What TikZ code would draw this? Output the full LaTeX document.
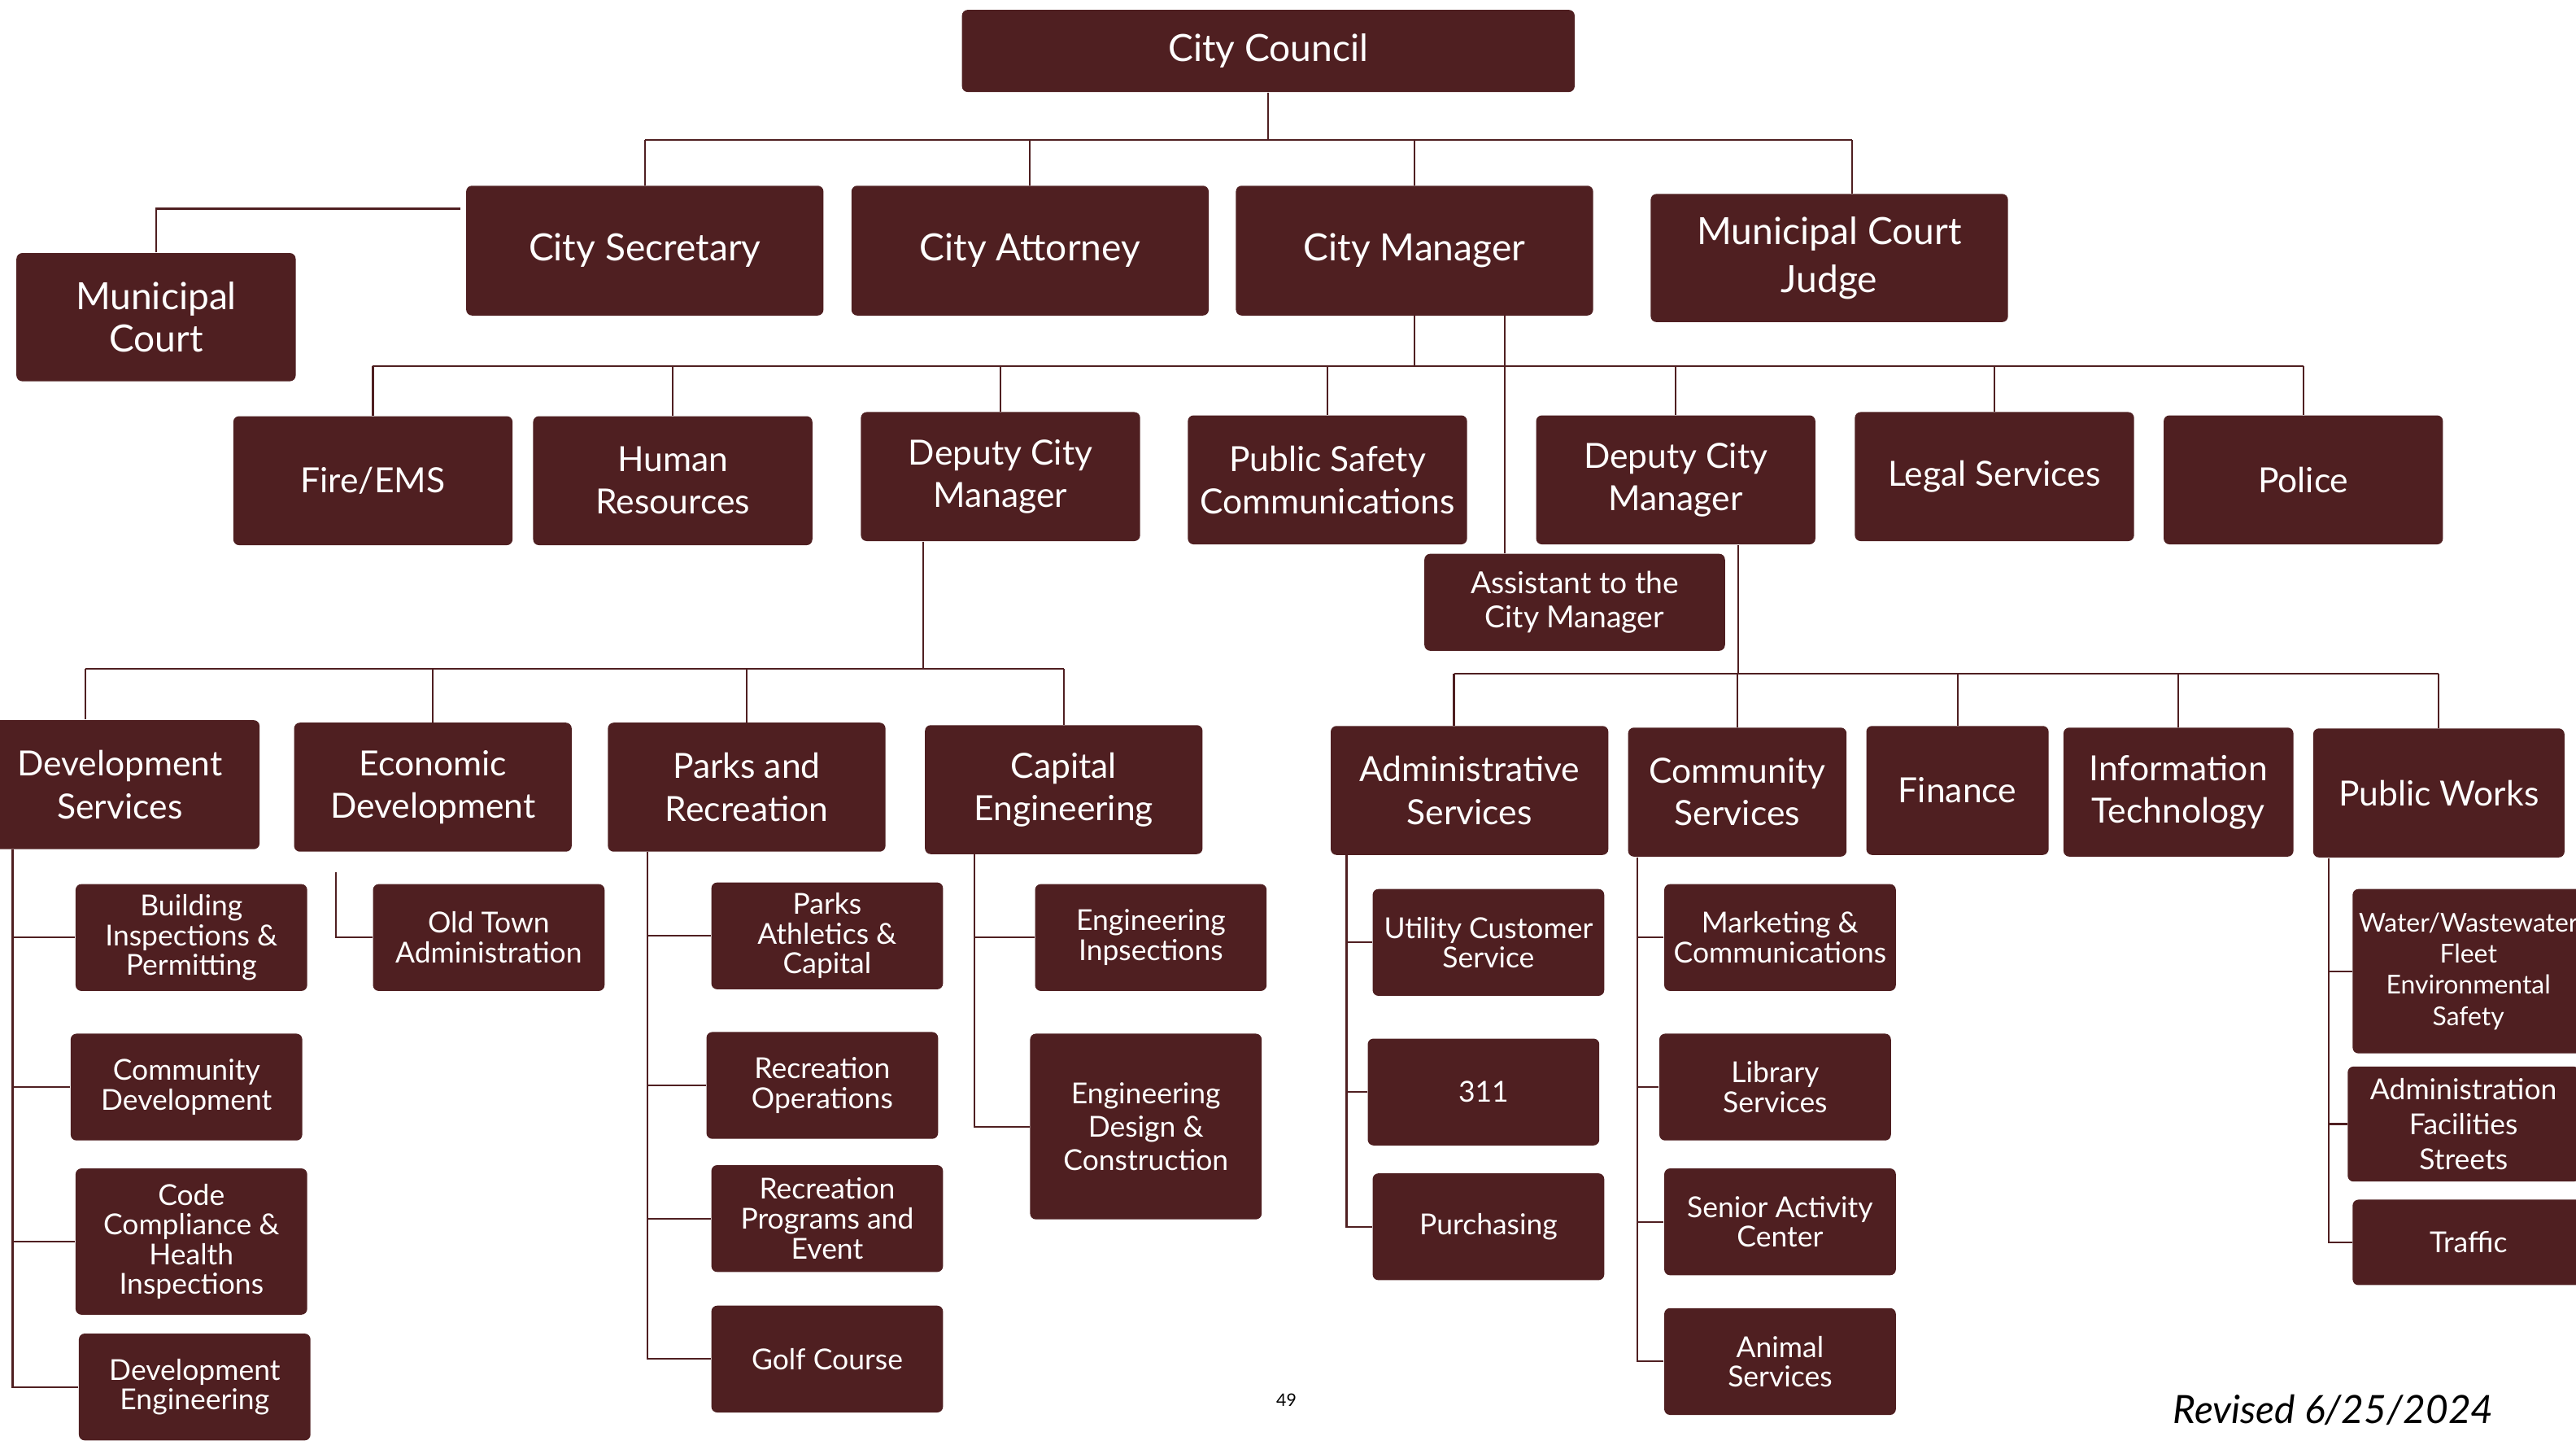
\documentclass[tikz,border=0pt]{standalone}
\usepackage{fontspec}
\setmainfont{Lato}
\usepackage{tikz}
\definecolor{maroon}{HTML}{4F1F21}

\begin{document}
\begin{tikzpicture}[
    x=0.02cm, y=-0.02cm,
    unitbox/.style={rectangle, rounded corners=2pt, fill=maroon, text=white, align=center, inner sep=2pt, minimum width=3.4cm, minimum height=1.57cm, font=\fontsize{12}{14.7}\selectfont},
    headbox/.style={unitbox, minimum width=4.35cm, minimum height=1.58cm, font=\fontsize{13}{16.5}\selectfont},
    subbox/.style={unitbox, minimum width=2.82cm, minimum height=1.3cm, inner sep=1pt, font=\fontsize{10}{10.3}\selectfont},
    link/.style={draw=maroon, line width=0.6pt},
]
\useasboundingbox (0,0) rectangle (1568,879);
\clip (0,0) rectangle (1568,879);

% Row 1 - Council and its direct reports
\node[headbox, minimum width=7.46cm, minimum height=1cm] (cc) at (772,31) {City Council};
\node[headbox] (sec) at (392.5,152.5) {City Secretary};
\node[headbox] (att) at (627,152.5) {City Attorney};
\node[headbox] (cm) at (861,152.5) {City Manager};
\node[headbox, minimum height=1.56cm] (judge) at (1113.5,157) {Municipal Court\\Judge};
\node[headbox, minimum width=3.4cm, minimum height=1.56cm, font=\fontsize{13}{14.7}\selectfont] (mcourt) at (95,193) {Municipal\\Court};

% Row 2 - City Manager reports
\node[unitbox] (fire) at (227,292.5) {Fire/EMS};
\node[unitbox] (hr) at (409.5,292.5) {Human\\Resources};
\node[unitbox] (dcmA) at (609,290) {Deputy City\\Manager};
\node[unitbox] (psc) at (808,292) {Public Safety\\Communications};
\node[unitbox] (dcmB) at (1020,292) {Deputy City\\Manager};
\node[unitbox] (legal) at (1214,290) {Legal Services};
\node[unitbox] (police) at (1402,292) {Police};
\node[unitbox, minimum width=3.66cm, minimum height=1.18cm, font=\fontsize{10.5}{12}\selectfont] (asst) at (958.5,366.5) {Assistant to the\\City Manager};

% Row 3 - Departments
\node[unitbox] (dev) at (73,477.5) {Development\\Services};
\node[unitbox, minimum width=3.38cm] (econ) at (263.5,479) {Economic\\Development};
\node[unitbox, minimum width=3.38cm] (parks) at (454.5,479) {Parks and\\Recreation};
\node[unitbox, minimum width=3.38cm] (capeng) at (647.5,480.5) {Capital\\Engineering};
\node[unitbox, minimum width=3.38cm] (admin) at (894.5,481) {Administrative\\Services};
\node[unitbox, minimum width=2.66cm] (comm) at (1057.5,482) {Community\\Services};
\node[unitbox, minimum width=2.22cm] (fin) at (1191.5,481) {Finance};
\node[unitbox, minimum width=2.8cm] (it) at (1326,482) {Information\\Technology};
\node[unitbox, minimum width=3.06cm] (pw) at (1484.5,482.5) {Public Works};

% Row 4 - Divisions
\node[subbox] (bldg) at (116.5,570.5) {Building\\Inspections \&\\Permitting};
\node[subbox] (commdev) at (113.5,661.5) {Community\\Development};
\node[subbox, minimum height=1.78cm] (code) at (116.5,755.5) {Code\\Compliance \&\\Health\\Inspections};
\node[subbox] (deveng) at (118.5,844) {Development\\Engineering};
\node[subbox] (oldtown) at (297.5,570.5) {Old Town\\Administration};
\node[subbox] (athl) at (503.5,569.5) {Parks\\Athletics \&\\Capital};
\node[subbox] (recops) at (500.5,660.5) {Recreation\\Operations};
\node[subbox] (recprog) at (503.5,741.5) {Recreation\\Programs and\\Event};
\node[subbox] (golf) at (503.5,827) {Golf Course};
\node[subbox] (enginsp) at (700.5,570.5) {Engineering\\Inpsections};
\node[subbox, minimum height=2.26cm, font=\fontsize{10}{11.6}\selectfont] (engdes) at (697.5,685.5) {Engineering\\Design \&\\Construction};
\node[subbox] (ucs) at (906,573.5) {Utility Customer\\Service};
\node[subbox] (n311) at (903,664.5) {311};
\node[subbox] (purch) at (906,746.5) {Purchasing};
\node[subbox] (mkt) at (1083.5,570.5) {Marketing \&\\Communications};
\node[subbox] (lib) at (1080.5,661.5) {Library\\Services};
\node[subbox] (senior) at (1083.5,743.5) {Senior Activity\\Center};
\node[subbox] (animal) at (1083.5,828.5) {Animal\\Services};
\node[subbox, minimum height=2cm, font=\fontsize{9}{10.8}\selectfont] (water) at (1502.5,591) {Water/Wastewater\\Fleet\\Environmental\\Safety};
\node[subbox, minimum height=1.4cm, font=\fontsize{10}{12}\selectfont] (afs) at (1499.5,684) {Administration\\Facilities\\Streets};
\node[subbox, minimum height=1.04cm] (traffic) at (1502.5,756) {Traffic};

% Connectors
\coordinate (busA) at (0,85);
\coordinate (busB) at (0,223);
\coordinate (busC) at (0,407);
\coordinate (busD) at (0,410);

\draw[link] (cc.south) -- (cc.south |- busA);
\draw[link] (sec.north |- busA) -- ([xshift=0.28cm]judge.north |- busA);
\foreach \n in {sec,att,cm}
    \draw[link] (\n.north) -- (\n.north |- busA);
\draw[link] ([xshift=0.28cm]judge.north) -- ([xshift=0.28cm]judge.north |- busA);
\draw[link] (mcourt.north) |- ([xshift=-0.06cm,yshift=0.51cm]sec.west);

\draw[link] (cm.south) -- (cm.south |- busB);
\draw[link] (fire.north |- busB) -- (police.north |- busB);
\foreach \n in {fire,hr,dcmA,psc,dcmB,legal,police}
    \draw[link] (\n.north) -- (\n.north |- busB);
\draw[link] ([xshift=1.1cm]cm.south) -- ([xshift=1.1cm]cm.south |- asst.north);

\draw[link] ([xshift=-0.94cm]dcmA.south) -- ([xshift=-0.94cm]dcmA.south |- busC);
\draw[link] ([xshift=-0.42cm]dev.north |- busC) -- (capeng.north |- busC);
\draw[link] ([xshift=-0.42cm]dev.north) -- ([xshift=-0.42cm]dev.north |- busC);
\foreach \n in {econ,parks,capeng}
    \draw[link] (\n.north) -- (\n.north |- busC);

\draw[link] ([xshift=0.76cm]dcmB.south) -- ([xshift=0.76cm]dcmB.south |- busD);
\draw[link] ([xshift=-0.19cm]admin.north |- busD) -- (pw.north |- busD);
\draw[link] ([xshift=-0.19cm]admin.north) -- ([xshift=-0.19cm]admin.north |- busD);
\foreach \n in {comm,fin,it,pw}
    \draw[link] (\n.north) -- (\n.north |- busD);

\foreach \c in {bldg,commdev,code,deveng}
    \draw[link] ([xshift=0.4cm]dev.south west) |- (\c.west);
\draw[link] ([xshift=0.52cm,yshift=-0.24cm]econ.south west) |- (oldtown.west);
\foreach \c in {athl,recops,recprog,golf}
    \draw[link] ([xshift=0.49cm]parks.south west) |- (\c.west);
\foreach \c in {enginsp,engdes}
    \draw[link] ([xshift=0.61cm]capeng.south west) |- (\c.west);
\foreach \c in {ucs,n311,purch}
    \draw[link] ([xshift=0.2cm]admin.south west) |- (\c.west);
\foreach \c in {mkt,lib,senior,animal}
    \draw[link] ([xshift=0.12cm]comm.south west) |- (\c.west);
\foreach \c in {water,afs,traffic}
    \draw[link] ([xshift=0.2cm]pw.south west) |- (\c.west);

% Footer
\node[font=\fontsize{6}{7}\selectfont] (pg) at (783,852) {49};
\node[font=\fontsize{13.5}{15}\selectfont\itshape, anchor=east] (rev) at (1524,858) {Revised 6/25/2024};

\end{tikzpicture}
\end{document}
